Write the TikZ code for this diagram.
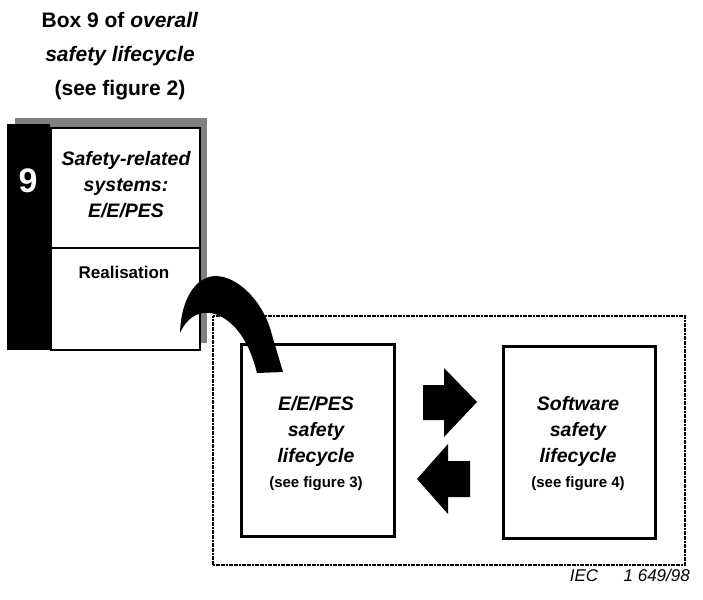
\documentclass[tikz,border=0pt]{standalone}
\usepackage{fontspec}
\setmainfont{Liberation Sans}
\begin{document}
\begin{tikzpicture}[x=1pt,y=-1pt,
  titletxt/.style={font=\bfseries\fontsize{21}{34}\selectfont, align=center, inner sep=0pt},
  boxtxt/.style={font=\bfseries\itshape\fontsize{19.5}{26}\selectfont, align=center, inner sep=0pt},
  smalltxt/.style={font=\bfseries\fontsize{15}{18}\selectfont, inner sep=0pt},
  shadowfill/.style={fill=black!50},
  solidframe/.style={draw, line width=3pt},
  dotframe/.style={draw, line width=2pt, dash pattern=on 2pt off 0.6pt},
  blockarrow/.style={fill=black}
]
\useasboundingbox (0,0) rectangle (703,599);

% title
\node[titletxt] (title) at (120,56) {Box 9 of \textit{overall}\\ \textit{safety lifecycle}\\ (see figure 2)};

% box 9 with shadow and black bar
\fill[shadowfill] (15,118) rectangle (207,343);
\fill (7,124) rectangle (50,350);
\node[draw, fill=white, line width=2pt, minimum width=149pt, minimum height=222pt, inner sep=0pt, anchor=north west] (box9) at (50,127) {};
\draw[line width=1.5pt] (box9.west |- 0,248) coordinate (sepL) -- (box9.east |- 0,248) coordinate (sepR);
\node[font=\bfseries\fontsize{34}{34}\selectfont, text=white, inner sep=0pt] (nine) at (28,181) {9};
\node[boxtxt] (srs) at (126,185) {Safety-related\\ systems:\\ E/E/PES};
\node[font=\bfseries\fontsize{17}{20}\selectfont, inner sep=0pt] (real) at (124,272) {Realisation};

% dotted frame
\node[dotframe, minimum width=472pt, minimum height=249pt, inner sep=0pt, anchor=north west] (frame) at (212,315) {};

% inner boxes
\node[solidframe, minimum width=153pt, minimum height=192pt, inner sep=0pt, anchor=north west] (eepes) at (240,343) {};
\node[solidframe, minimum width=152pt, minimum height=192pt, inner sep=0pt, anchor=north west] (sw) at (502,345) {};

\node[boxtxt] (eepestxt) at (316,431) {E/E/PES\\ safety\\ lifecycle};
\node[smalltxt] (fig3) at (316,484) {(see figure 3)};
\node[boxtxt] (swtxt) at (578,431) {Software\\ safety\\ lifecycle};
\node[smalltxt] (fig4) at (578,484) {(see figure 4)};

% block arrows
\fill[blockarrow] (423,385) -- (444,385) -- (444,368) -- (477,402) -- (444,437) -- (444,420) -- (423,420) -- cycle;
\fill[blockarrow] (470,461) -- (448,461) -- (448,444) -- (417,479) -- (448,514) -- (448,497) -- (470,497) -- cycle;

% curved arrow from box 9 to E/E/PES box
\fill[blockarrow] (180,333) .. controls (181,300) and (195,277) .. (215,276)
  .. controls (240,276) and (265,305) .. (272,335) -- (283,372) -- (257,373)
  .. controls (250,345) and (238,325) .. (220,316)
  .. controls (203,308) and (188,315) .. (180,333) -- cycle;

% reference label
\node[font=\itshape\fontsize{17}{20}\selectfont, inner sep=0pt, anchor=east] (iec) at (690,575) {IEC\hspace{1.5em}1 649/98};
\end{tikzpicture}
\end{document}
